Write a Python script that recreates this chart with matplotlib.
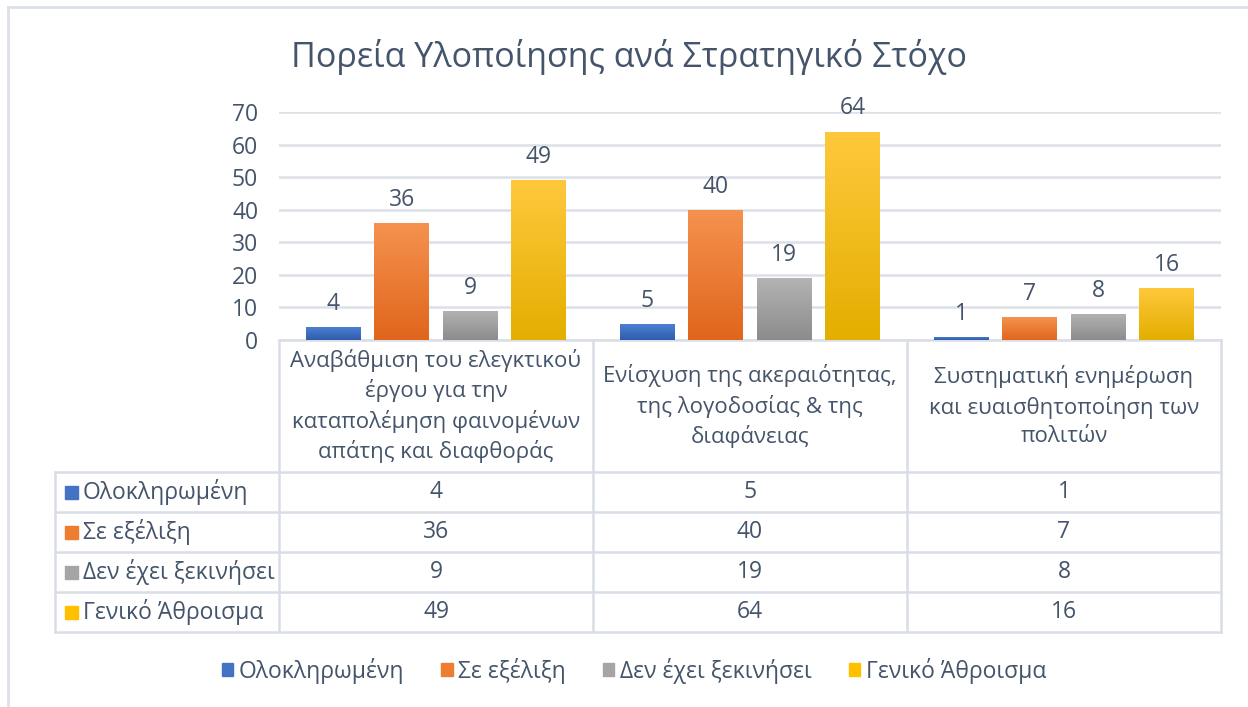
import matplotlib
matplotlib.use("Agg")
import matplotlib.pyplot as plt
import numpy as np
from matplotlib import transforms
from matplotlib.patches import Rectangle
from matplotlib.colors import LinearSegmentedColormap

plt.rcParams['font.family'] = ['Open Sans', 'DejaVu Sans']

title = "Πορεία Υλοποίησης ανά Στρατηγικό Στόχο"
categories = [
    "Αναβάθμιση του ελεγκτικού\nέργου για την\nκαταπολέμηση φαινομένων\nαπάτης και διαφθοράς",
    "Ενίσχυση της ακεραιότητας,\nτης λογοδοσίας & της\nδιαφάνειας",
    "Συστηματική ενημέρωση\nκαι ευαισθητοποίηση των\nπολιτών",
]
series_names = ["Ολοκληρωμένη", "Σε εξέλιξη", "Δεν έχει ξεκινήσει", "Γενικό Άθροισμα"]
completed = [4, 5, 1]
in_progress = [36, 40, 7]
not_started = [9, 19, 8]
total = [49, 64, 16]
series_values = [completed, in_progress, not_started, total]
yticks = [0, 10, 20, 30, 40, 50, 60, 70]

base_colors = ["#4472C4", "#ED7D31", "#A5A5A5", "#FFC000"]
grad_top = ["#4F81D3", "#F5924F", "#B3B3B3", "#FFC83C"]
grad_bot = ["#2F5DAE", "#E0661C", "#8C8C8C", "#E3AF00"]

TXT = "#44546A"
GRID = "#DCE1E7"
FS = 16.5
W, H = 1248, 707

fig = plt.figure(figsize=(W / 100, H / 100), dpi=100)
fig.patch.set_facecolor("white")

# overlay in pixel coordinates
ov = fig.add_axes([0, 0, 1, 1], zorder=0)
ov.set_xlim(0, W)
ov.set_ylim(H, 0)
ov.axis("off")

# main chart axes
ax_left, ax_right, ax_top, ax_bot = 279, 1221, 112, 340
ax = fig.add_axes([ax_left / W, 1 - ax_bot / H, (ax_right - ax_left) / W, (ax_bot - ax_top) / H], zorder=1)
ax.patch.set_alpha(0)

x = np.arange(len(categories))
step = 0.218
bw = 0.175
for k, vals in enumerate(series_values):
    bars = ax.bar(x + (k - 1.5) * step, vals, width=bw, color=base_colors[k], zorder=2)
    cmap = LinearSegmentedColormap.from_list("g%d" % k, [grad_bot[k], grad_top[k]])
    for b in bars:
        x0, w, h = b.get_x(), b.get_width(), b.get_height()
        grad = np.linspace(0, 1, 64).reshape(-1, 1)
        im = ax.imshow(grad, extent=[x0, x0 + w, 0, h], origin="lower", aspect="auto",
                       cmap=cmap, zorder=3, interpolation="bicubic")
        im.set_clip_path(b)
    ax.bar_label(bars, labels=[str(v) for v in vals], padding=8, fontsize=FS, color=TXT)

ax.set_xlim(-0.5, len(categories) - 0.5)
ax.set_ylim(0, 70)
ax.set_yticks(yticks)
ax.set_yticklabels([str(t) for t in yticks], fontsize=FS, color=TXT)
ax.tick_params(axis="y", length=0, pad=15)
ax.set_xticks([])
for s in ax.spines.values():
    s.set_visible(False)
ax.yaxis.grid(True, color=GRID, linewidth=1.8, zorder=0)
ax.set_axisbelow(True)

# title
ov.text(629, 57, title, fontsize=24.5, color=TXT, ha="center", va="center")

# outer border
ov.plot([8, 8], [7, H + 5], color=GRID, lw=2, clip_on=False)
ov.plot([8, W + 5], [7, 7], color=GRID, lw=2, clip_on=False)

# data table
bl = transforms.blended_transform_factory(ax.transData, ov.transData)
tab_left = 55
header_top, header_bot = 340, 472
row_h = 40
n_rows = len(series_names)
rows_y = [header_bot + i * row_h for i in range(n_rows + 1)]
table_bot = rows_y[-1]
LC = "#D9DEE6"
lw = 1.8
xb = [i - 0.5 for i in range(len(categories) + 1)]
for xv in xb:
    ov.plot([xv, xv], [header_top, table_bot], color=LC, lw=lw, transform=bl, clip_on=False)
ov.plot([tab_left, tab_left], [header_bot, table_bot], color=LC, lw=lw, clip_on=False)
ov.plot([xb[0], xb[-1]], [header_top, header_top], color=LC, lw=lw, transform=bl, clip_on=False)
for yv in rows_y:
    ov.plot([tab_left, ax_right], [yv, yv], color=LC, lw=lw, clip_on=False)

# header text
for i, c in enumerate(categories):
    ov.text(i, (header_top + header_bot) / 2, c, transform=bl, ha="center", va="center",
            fontsize=16, color=TXT, linespacing=1.42)

# rows
for r, (name, vals) in enumerate(zip(series_names, series_values)):
    yc = rows_y[r] + row_h / 2
    ov.add_patch(Rectangle((65, yc - 6.5), 13, 13, color=base_colors[r], zorder=5))
    ov.text(83, yc, name, ha="left", va="center", fontsize=FS, color=TXT)
    for i, v in enumerate(vals):
        ov.text(i, yc, str(v), transform=bl, ha="center", va="center", fontsize=FS, color=TXT)

# legend
handles = [Rectangle((0, 0), 1, 1, color=c) for c in base_colors]
leg = fig.legend(handles, series_names, loc="center", bbox_to_anchor=(634 / W, 1 - 671 / H),
                 ncol=4, frameon=False, fontsize=FS, handlelength=0.5, handleheight=0.5,
                 handletextpad=0.25, columnspacing=1.6, labelcolor=TXT)

fig.savefig("out.png", dpi=100)
